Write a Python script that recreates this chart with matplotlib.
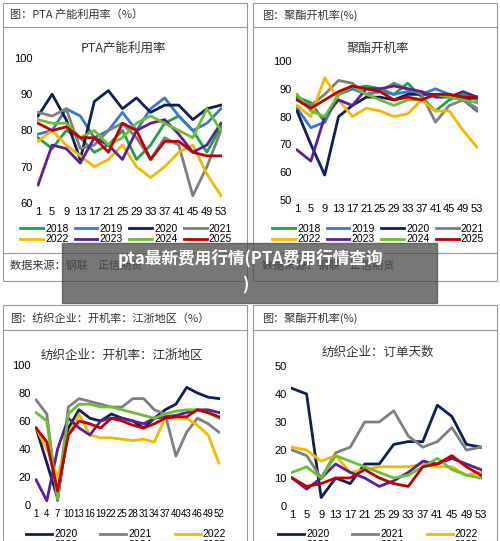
import matplotlib
matplotlib.use("Agg")
import matplotlib.pyplot as plt
from matplotlib.patches import Rectangle
from matplotlib.lines import Line2D

plt.rcParams['font.family'] = ['Liberation Sans', 'Noto Sans CJK SC', 'DejaVu Sans']
CJK = ['Noto Sans CJK SC', 'DejaVu Sans']

wk4 = [1, 5, 9, 13, 17, 21, 25, 29, 33, 37, 41, 45, 49, 53]
wk3 = [1, 4, 7, 10, 13, 16, 19, 22, 25, 28, 31, 34, 37, 40, 43, 46, 49, 52]
colors = {'2018': '#1aa34a', '2019': '#3b78d0', '2020': '#0d1f5a', '2021': '#7f7f7f',
          '2022': '#f5b700', '2023': '#5b1f9a', '2024': '#6cbf2f', '2025': '#c00000'}

pta = {
    '2018': [78, 75, 80, 78, 74, 76, 80, 72, 76, 82, 84, 80, 74, 81],
    '2019': [79, 80, 86, 84, 78, 80, 85, 80, 86, 89, 84, 80, 82, 86],
    '2020': [84, 90, 83, 72, 88, 91, 86, 89, 85, 87, 87, 83, 86, 87],
    '2021': [85, 84, 86, 75, 76, 80, 82, 78, 72, 78, 76, 62, 70, 80],
    '2022': [77, 80, 76, 73, 70, 72, 76, 70, 67, 70, 74, 76, 68, 62],
    '2023': [65, 76, 75, 71, 78, 76, 72, 80, 82, 83, 79, 74, 76, 82],
    '2024': [83, 82, 82, 78, 80, 76, 78, 82, 84, 82, 80, 78, 86, 80],
    '2025': [82, 80, 81, 78, 78, 74, 82, 80, 72, 77, 77, 74, 73, 73],
}
poly = {
    '2018': [87, 85, 78, 88, 90, 91, 90, 88, 92, 87, 82, 86, 88, 86],
    '2019': [83, 76, 78, 88, 90, 88, 89, 88, 89, 88, 90, 88, 86, 82],
    '2020': [82, 70, 59, 80, 84, 87, 87, 86, 88, 88, 88, 88, 86, 87],
    '2021': [86, 84, 88, 93, 92, 88, 89, 92, 90, 88, 78, 84, 86, 83],
    '2022': [84, 80, 94, 86, 80, 83, 82, 80, 81, 86, 82, 82, 75, 69],
    '2023': [68, 64, 80, 86, 84, 90, 90, 91, 90, 89, 87, 87, 89, 87],
    '2024': [88, 82, 80, 88, 91, 88, 86, 84, 86, 86, 88, 87, 86, 85],
    '2025': [86, 83, 86, 89, 91, 90, 89, 86, 87, 86, 88, 88, 87, 87],
}
weave = {
    '2020': [55, 30, 5, 55, 68, 62, 60, 65, 62, 60, 55, 62, 68, 72, 84, 80, 77, 76],
    '2021': [75, 65, 3, 70, 76, 74, 72, 70, 70, 76, 76, 68, 65, 35, 52, 62, 58, 52],
    '2022': [55, 40, 20, 50, 65, 50, 48, 48, 47, 46, 47, 45, 62, 62, 62, 57, 50, 30],
    '2023': [18, 3, 40, 62, 55, 50, 60, 62, 62, 60, 58, 62, 63, 64, 66, 68, 68, 66],
    '2024': [66, 60, 5, 65, 72, 72, 70, 70, 68, 66, 64, 62, 65, 67, 68, 68, 66, 62],
    '2025': [55, 45, 10, 50, 60, 58, 55, 62, 60, 57, 55, 58, 62, 63, 63, 68, 66, 63],
}
orders = {
    '2020': [42, 40, 3, 10, 8, 15, 15, 22, 23, 23, 36, 32, 22, 21],
    '2021': [20, 18, 10, 19, 21, 30, 30, 34, 25, 21, 23, 28, 20, 21],
    '2022': [21, 20, 16, 18, 12, 13, 14, 14, 14, 15, 14, 14, 11, 12],
    '2023': [10, 6, 10, 15, 12, 10, 7, 9, 12, 16, 15, 17, 15, 13],
    '2024': [12, 14, 10, 18, 16, 14, 12, 10, 11, 14, 17, 13, 11, 10],
    '2025': [10, 7, 8, 10, 10, 13, 10, 8, 7, 14, 15, 18, 14, 11],
}

W, H = 500, 541
fig = plt.figure(figsize=(5, 5.41), dpi=100)

def fx(x): return x / W
def fy(y): return 1 - y / H

def box(x0, y0, x1, y1, hdr_y, foot_y=None):
    fig.patches.append(Rectangle((fx(x0), fy(y1)), fx(x1 - x0), (y1 - y0) / H,
                                 transform=fig.transFigure, fill=False, ec='#999999', lw=0.8))
    fig.add_artist(Line2D([fx(x0), fx(x1)], [fy(hdr_y)] * 2, color='#999999', lw=0.8))
    if foot_y:
        fig.add_artist(Line2D([fx(x0), fx(x1)], [fy(foot_y)] * 2, color='#999999', lw=0.8))

def panel(x0, x1, ytop, ybot, xs, data, ylim, yticks, xticks, title, tx, ty, baseline=False):
    ax = fig.add_axes([fx(x0), fy(ybot), (x1 - x0) / W, (ybot - ytop) / H])
    for k, v in data.items():
        ax.plot(xs, v, color=colors[k], lw=2, label=k)
    ax.set_ylim(*ylim)
    ax.set_xlim(xticks[0] - 0.3, xticks[-1] + 0.3)
    ax.set_yticks(yticks)
    ax.set_xticks(xticks)
    ax.tick_params(length=0, labelsize=8, pad=3)
    for s in ax.spines.values():
        s.set_visible(False)
    if baseline:
        ax.axhline(ylim[0], color='#d9d9d9', lw=1)
    fig.text(fx(tx), fy(ty), title, family=CJK, fontsize=9, ha='center', va='center', color='#333333')
    return ax

box(3, 3, 247, 281, 27, 253)
box(253, 3, 497, 281, 27, 253)
box(3, 305, 247, 541, 330)
box(253, 305, 497, 541, 330)

fig.text(fx(10), fy(15), '图：PTA 产能利用率（%）', family=CJK, fontsize=8, va='center', color='#333333')
fig.text(fx(262), fy(15), '图：聚酯开机率(%)', family=CJK, fontsize=8, va='center', color='#333333')
fig.text(fx(10), fy(318), '图：纺织企业：开机率：江浙地区（%）', family=CJK, fontsize=8, va='center', color='#333333')
fig.text(fx(262), fy(318), '图：聚酯开机率(%)', family=CJK, fontsize=8, va='center', color='#333333')
fig.text(fx(10), fy(266), '数据来源：钢联    正信期货', family=CJK, fontsize=8, va='center', color='#333333')
fig.text(fx(262), fy(266), '数据来源：钢联    正信期货', family=CJK, fontsize=8, va='center', color='#333333')

a1 = panel(37, 222, 58, 203, wk4, pta, (60, 100), [60, 70, 80, 90, 100],
           list(range(1, 54, 4)), 'PTA产能利用率', 124, 48)
a2 = panel(296, 478, 61, 200, wk4, poly, (50, 100), [50, 60, 70, 80, 90, 100],
           list(range(1, 54, 4)), '聚酯开机率', 378, 48, baseline=True)
a3 = panel(35, 220, 365, 505, wk3, weave, (0, 100), [0, 20, 40, 60, 80, 100],
           list(range(1, 53, 3)), '纺织企业：开机率：江浙地区', 122, 355)
a4 = panel(291, 482, 366, 506, wk4, orders, (0, 50), [0, 10, 20, 30, 40, 50],
           list(range(1, 54, 4)), '纺织企业：订单天数', 378, 352)
a3.tick_params(axis='x', labelsize=7)

def rowwise(h, l, ncol):
    nrow = (len(h) + ncol - 1) // ncol
    idx = [r * ncol + c for c in range(ncol) for r in range(nrow)]
    return [h[i] for i in idx], [l[i] for i in idx]

for ax, cx in ((a1, 126), (a2, 378)):
    h, l = rowwise(*ax.get_legend_handles_labels(), 4)
    fig.legend(h, l, ncol=4, loc='center', bbox_to_anchor=(fx(cx), fy(234)), frameon=False,
               fontsize=7.5, handlelength=2.2, handletextpad=0.2, columnspacing=0.6,
               labelspacing=0.05, borderpad=0)
for ax, cx in ((a3, 126), (a4, 378)):
    h, l = rowwise(*ax.get_legend_handles_labels(), 3)
    fig.legend(h, l, ncol=3, loc='upper center', bbox_to_anchor=(fx(cx), fy(524)), frameon=False,
               fontsize=7.5, handlelength=2.5, handletextpad=0.2, columnspacing=2.2,
               labelspacing=0.1, borderpad=0)

fig.patches.append(Rectangle((fx(62), fy(303)), fx(437 - 62), (303 - 243) / H,
                             transform=fig.transFigure, color='#4a4a4a', alpha=0.75, zorder=10))
fig.text(fx(250), fy(259), 'pta最新费用行情(PTA费用行情查询', family=CJK, fontsize=12,
         fontweight='bold', color='white', ha='center', va='center', zorder=11)
fig.text(fx(245), fy(285), ')', family=CJK, fontsize=12, fontweight='bold',
         color='white', ha='center', va='center', zorder=11)

fig.savefig('out.png', dpi=100)
